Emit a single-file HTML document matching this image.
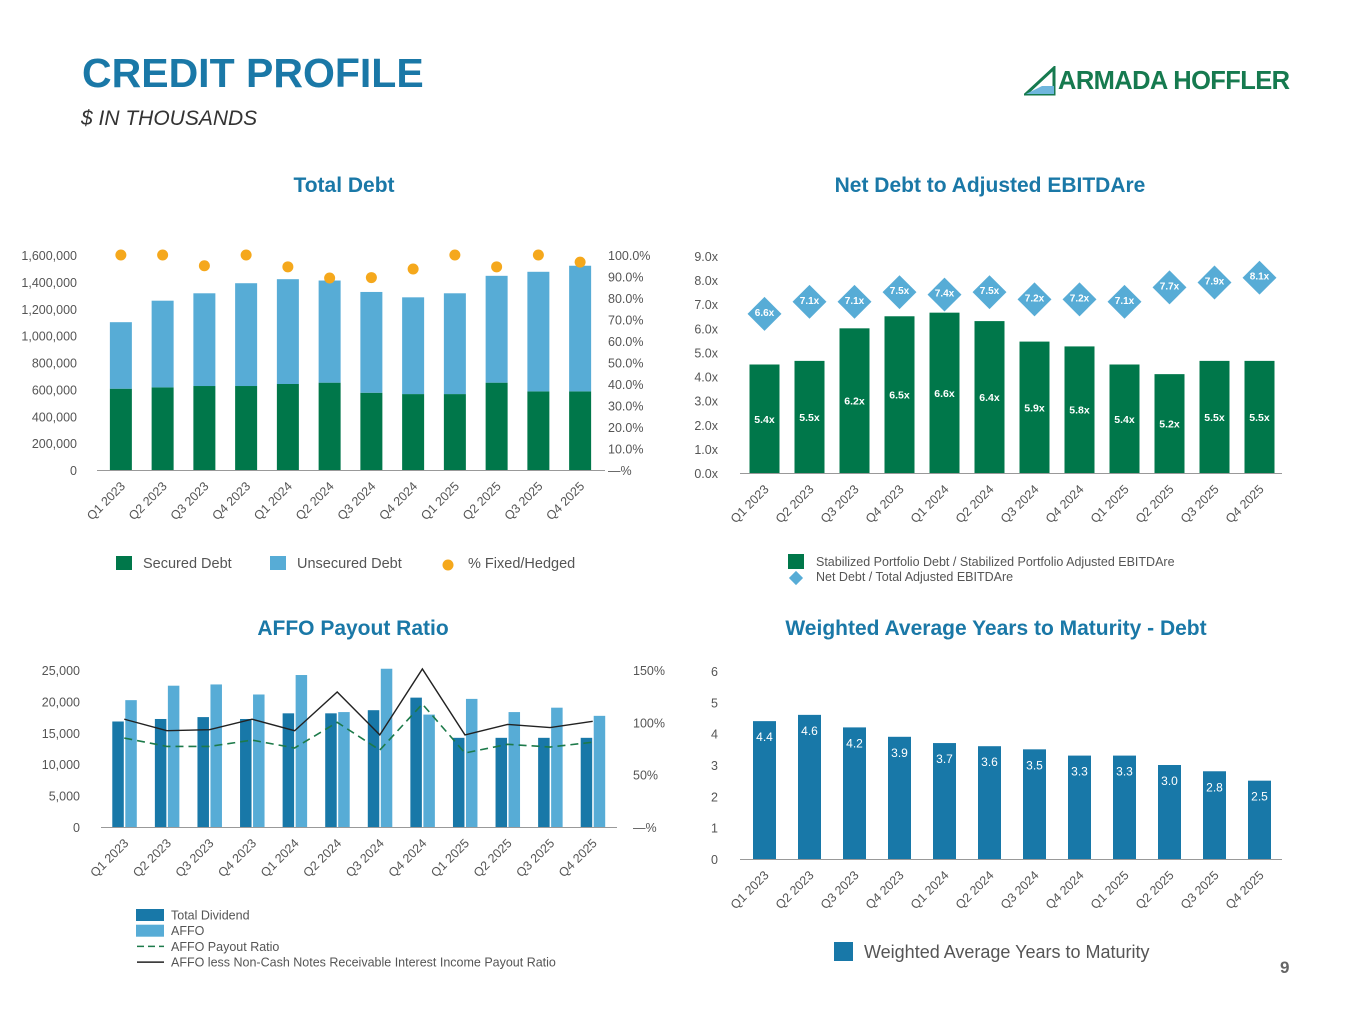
<!DOCTYPE html>
<html><head><meta charset="utf-8"><style>
body{margin:0;width:1365px;height:1024px;background:#fff;font-family:"Liberation Sans",Arial,sans-serif;overflow:hidden;position:relative}
.abs{position:absolute}
.ttl{color:#1a78a7;font-weight:bold;font-size:21px;text-align:center}
</style></head><body>
<div class="abs" style="left:82px;top:50px;font-size:41px;font-weight:bold;color:#1a78a7">CREDIT PROFILE</div>
<div class="abs" style="left:81px;top:107px;font-size:21px;font-style:italic;color:#333">$ IN THOUSANDS</div>
<div class="abs" style="left:1024px;top:66px;display:flex;align-items:center">
<svg width="34" height="30"><polygon points="2,28 30,2 30,28" fill="none" stroke="#167a4f" stroke-width="3"/><polygon points="2,28 18,20 30,20 30,28" fill="#6fb6dd"/></svg>
<span style="font-size:25.5px;font-weight:bold;color:#167a4f;letter-spacing:-0.6px">ARMADA HOFFLER</span></div>
<div class="abs ttl" style="left:144px;top:174px;width:400px">Total Debt</div>
<div class="abs ttl" style="left:740px;top:174px;width:500px">Net Debt to Adjusted EBITDAre</div>
<div class="abs ttl" style="left:153px;top:617px;width:400px">AFFO Payout Ratio</div>
<div class="abs ttl" style="left:746px;top:617px;width:500px">Weighted Average Years to Maturity - Debt</div>
<div class="abs" style="left:1280px;top:958px;font-size:17px;font-weight:bold;color:#666">9</div>
<svg id="c" class="abs" style="left:0;top:0" width="1365" height="1024"></svg>
<script>
const quarters=["Q1 2023","Q2 2023","Q3 2023","Q4 2023","Q1 2024","Q2 2024","Q3 2024","Q4 2024","Q1 2025","Q2 2025","Q3 2025","Q4 2025"];
const securedDebt=[605000,615000,625000,625000,640000,650000,575000,565000,565000,650000,585000,585000];
const totalDebt=[1100000,1260000,1315000,1390000,1420000,1410000,1325000,1285000,1315000,1445000,1475000,1520000];
const fixedHedged=[100,100,95,100,94.5,89.3,89.5,93.5,100,94.5,100,96.7];
const debtTicks=[0,200000,400000,600000,800000,1000000,1200000,1400000,1600000];
const pctTicks=[0,10,20,30,40,50,60,70,80,90,100];
const stabilized=[4.5,4.65,6.0,6.5,6.65,6.3,5.45,5.25,4.5,4.1,4.65,4.65];
const stabilizedLabels=["5.4x","5.5x","6.2x","6.5x","6.6x","6.4x","5.9x","5.8x","5.4x","5.2x","5.5x","5.5x"];
const netDebt=[6.6,7.1,7.1,7.5,7.4,7.5,7.2,7.2,7.1,7.7,7.9,8.1];
const ebitdaTicks=[0,1,2,3,4,5,6,7,8,9];
const totalDividend=[16800,17200,17500,17200,18100,18100,18600,20600,14200,14200,14200,14200];
const affo=[20200,22500,22700,21100,24200,18300,25200,17900,20400,18300,19000,17700];
const payoutRatio=[85,77,77,83,75.5,100,73.5,117.5,70.7,79,76.4,81];
const payoutLessNotes=[103,92,93,103,92,129,88,151,88,98,95,101];
const affoTicks=[0,5000,10000,15000,20000,25000];
const affoPctTicks=[0,50,100,150];
const maturity=[4.4,4.6,4.2,3.9,3.7,3.6,3.5,3.3,3.3,3.0,2.8,2.5];
const maturityTicks=[0,1,2,3,4,5,6];

const svg=document.getElementById('c');const NS='http://www.w3.org/2000/svg';
function mk(t,a,txt){const e=document.createElementNS(NS,t);for(const k in a)e.setAttribute(k,a[k]);if(txt!=null)e.textContent=txt;svg.appendChild(e);return e;}
function lin(d0,d1,r0,r1){return v=>r0+(v-d0)/(d1-d0)*(r1-r0);}
function band(x0,x1,n){const w=(x1-x0)/n;return i=>x0+w*(i+0.5);}
const GREEN='#00774a',LB='#57acd6',DB='#1878a8',OR='#f5a81c',GR='#555';
function fmt(v){return v.toLocaleString('en-US');}
function xlabels(bx,y,fs,pref){quarters.forEach((q,i)=>{const x=bx(i);const t=mk('text',{x:x+5,y:y,'font-size':fs,fill:GR,'text-anchor':'end',transform:`rotate(-45 ${x+5} ${y})`},q);
});}

// Chart 1
{const y=lin(0,1600000,470,255),yp=lin(0,100,470,255),bx=band(100,601,12);
debtTicks.forEach(v=>{const t=mk('text',{x:77,y:y(v)+5,'font-size':12.5,fill:GR,'text-anchor':'end'},v===0?'0':fmt(v));});
pctTicks.forEach(v=>{const t=mk('text',{x:608,y:yp(v)+5,'font-size':12.5,fill:GR},v===0?'—%':v.toFixed(1)+'%');});
quarters.forEach((q,i)=>{const x=bx(i)-11;
const s=mk('rect',{x:x,y:y(securedDebt[i]),width:22,height:y(0)-y(securedDebt[i]),fill:GREEN});
const u=mk('rect',{x:x,y:y(totalDebt[i]),width:22,height:y(securedDebt[i])-y(totalDebt[i]),fill:LB});
const d=mk('circle',{cx:bx(i),cy:yp(fixedHedged[i]),r:5.5,fill:OR});});
const a=mk('line',{x1:97,x2:605,y1:470.5,y2:470.5,stroke:'#999'});
xlabels(bx,487,12.5,'debt');
const L=[[116,GREEN,'Secured Debt','r'],[270,LB,'Unsecured Debt','r'],[442,OR,'% Fixed/Hedged','c']];
L.forEach(l=>{const m=l[3]==='r'?mk('rect',{x:l[0],y:556,width:16,height:14,fill:l[1]}):mk('circle',{cx:l[0]+6,cy:565,r:5.5,fill:l[1]});
const t=mk('text',{x:l[0]+(l[3]==='r'?27:26),y:568,'font-size':14.5,fill:GR},l[2]);});}

// Chart 2
{const y=lin(0,9,473,256),bx=band(742,1282,12);
ebitdaTicks.forEach(v=>{const t=mk('text',{x:718,y:y(v)+5,'font-size':12.5,fill:GR,'text-anchor':'end'},v.toFixed(1)+'x');});
quarters.forEach((q,i)=>{const b=mk('rect',{x:bx(i)-15,y:y(stabilized[i]),width:30,height:y(0)-y(stabilized[i]),fill:GREEN});
const t=mk('text',{x:bx(i),y:(y(stabilized[i])+y(0))/2+4,'font-size':10.5,'font-weight':'bold',fill:'#fff','text-anchor':'middle'},stabilizedLabels[i]);
const cy=y(netDebt[i]);const d=mk('rect',{x:bx(i)-12,y:cy-12,width:24,height:24,fill:LB,transform:`rotate(45 ${bx(i)} ${cy})`});
const dl=mk('text',{x:bx(i),y:cy+2,'font-size':10,'font-weight':'bold',fill:'#fff','text-anchor':'middle'},netDebt[i].toFixed(1)+'x');});
const a=mk('line',{x1:740,x2:1282,y1:473.5,y2:473.5,stroke:'#999'});
xlabels(bx,490,12.5,'ebitda');
const m1=mk('rect',{x:788,y:554,width:16,height:15,fill:GREEN});
const t1=mk('text',{x:816,y:566,'font-size':12.5,fill:GR},'Stabilized Portfolio Debt / Stabilized Portfolio Adjusted EBITDAre');
const m2=mk('rect',{x:791,y:573,width:10,height:10,fill:LB,transform:'rotate(45 796 578)'});
const t2=mk('text',{x:816,y:581,'font-size':12.5,fill:GR},'Net Debt / Total Adjusted EBITDAre');}

// Chart 3
{const y=lin(0,25000,827,670),yp=lin(0,150,827,670),bx=band(103,614,12);
affoTicks.forEach(v=>{const t=mk('text',{x:80,y:y(v)+5,'font-size':12.5,fill:GR,'text-anchor':'end'},v===0?'0':fmt(v));});
affoPctTicks.forEach(v=>{const t=mk('text',{x:633,y:yp(v)+5,'font-size':12.5,fill:GR},v===0?'—%':v+'%');});
quarters.forEach((q,i)=>{const c=bx(i);
const d=mk('rect',{x:c-12,y:y(totalDividend[i]),width:11.5,height:y(0)-y(totalDividend[i]),fill:DB});
const l=mk('rect',{x:c+1,y:y(affo[i]),width:11.5,height:y(0)-y(affo[i]),fill:LB});});
const a=mk('line',{x1:101,x2:617,y1:827.5,y2:827.5,stroke:'#999'});
const p1=mk('polyline',{points:payoutRatio.map((v,i)=>bx(i)+','+yp(v)).join(' '),fill:'none',stroke:'#1d7a4a','stroke-width':1.6,'stroke-dasharray':'8,5'});
const p2=mk('polyline',{points:payoutLessNotes.map((v,i)=>bx(i)+','+yp(v)).join(' '),fill:'none',stroke:'#222','stroke-width':1.4});
xlabels(bx,844,12.5,'affo');
const L=[['r',DB,'Total Dividend'],['r',LB,'AFFO'],['d','#1d7a4a','AFFO Payout Ratio'],['l','#222','AFFO less Non-Cash Notes Receivable Interest Income Payout Ratio']];
L.forEach((l,k)=>{const yy=915+k*15.7;let m;
if(l[0]==='r')m=mk('rect',{x:136,y:yy-6,width:28,height:12,fill:l[1]});else m=mk('line',{x1:137,x2:164,y1:yy,y2:yy,stroke:l[1],'stroke-width':1.5,'stroke-dasharray':l[0]==='d'?'7,4':'none'});

const t=mk('text',{x:171,y:yy+4.5,'font-size':12.5,fill:GR},l[2]);});}

// Chart 4
{const y=lin(0,6,859,671),bx=band(742,1282,12);
maturityTicks.forEach(v=>{const t=mk('text',{x:718,y:y(v)+5,'font-size':12.5,fill:GR,'text-anchor':'end'},String(v));});
quarters.forEach((q,i)=>{const b=mk('rect',{x:bx(i)-11.5,y:y(maturity[i]),width:23,height:y(0)-y(maturity[i]),fill:DB});
const t=mk('text',{x:bx(i),y:y(maturity[i])+20,'font-size':12,fill:'#fff','text-anchor':'middle'},maturity[i].toFixed(1));});
const a=mk('line',{x1:740,x2:1282,y1:859.5,y2:859.5,stroke:'#999'});
xlabels(bx,876,12.5,'maturity');
const m=mk('rect',{x:834,y:942,width:19,height:19,fill:DB});
const t=mk('text',{x:864,y:958,'font-size':18,fill:GR},'Weighted Average Years to Maturity');}
</script>
</body></html>
